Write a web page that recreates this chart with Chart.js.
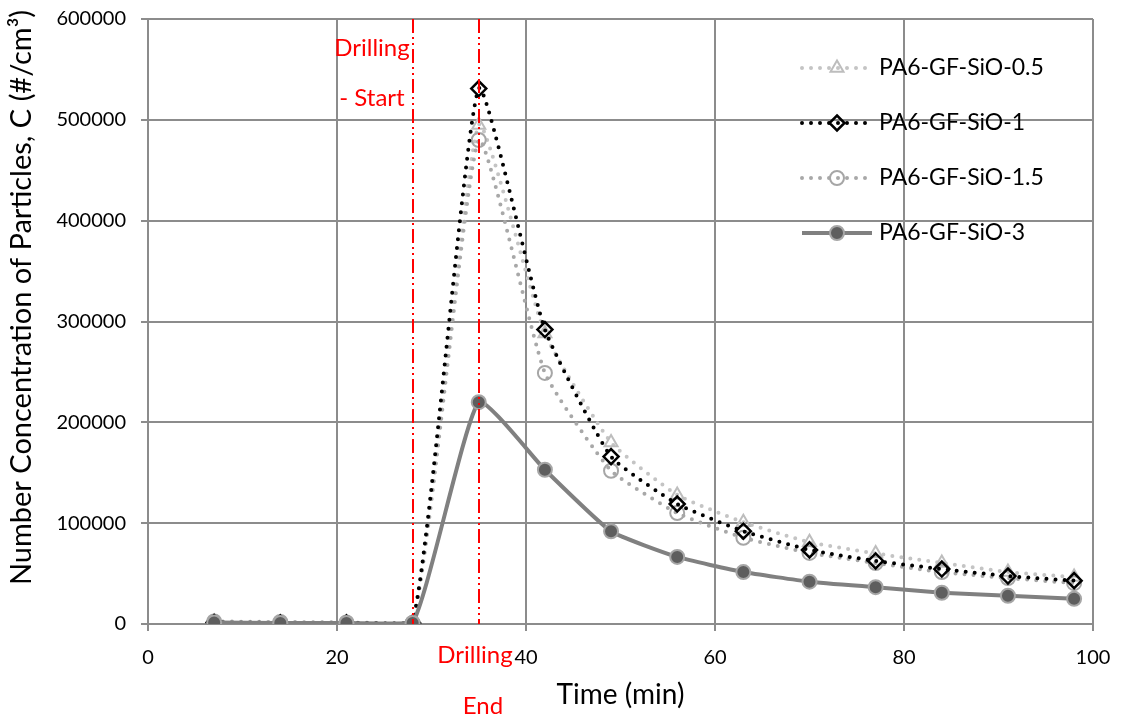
<!DOCTYPE html>
<html>
<head>
<meta charset="utf-8">
<script src="https://cdn.jsdelivr.net/npm/chart.js@4"></script>
<style>
  html, body { margin: 0; padding: 0; background: #fff; }
  canvas { display: block; }
</style>
</head>
<body>
<canvas id="chart" width="1126" height="719"></canvas>
<script>
// sampling times (min)
var times = [7, 14, 21, 28, 35, 42, 49, 56, 63, 70, 77, 84, 91, 98];

// number concentration of particles (#/cm3)
var sio05 = [2000, 1500, 1500, 1000, 495000, 288000, 180000, 128000, 101000, 81000, 70000, 60500, 51500, 46500];
var sio1  = [1500, 1000, 1000, 1000, 531000, 292000, 166000, 119000, 92000, 73500, 62500, 54500, 47500, 43000];
var sio15 = [2500, 2000, 1500, 1000, 480000, 249000, 152000, 110000, 85500, 70500, 60500, 51500, 45500, 40500];
var sio3  = [1500, 1000, 1000, 1000, 220000, 153000, 92000, 66500, 51500, 42000, 36500, 31000, 28000, 25000];

var seriesLabels = ['PA6-GF-SiO-0.5', 'PA6-GF-SiO-1', 'PA6-GF-SiO-1.5', 'PA6-GF-SiO-3'];
var yTitle = 'Number Concentration of Particles, C (#/cm\u00B3)';

// drilling window (min)
var drillStart = 28;
var drillEnd = 35;

var FONT = 'Lato, "Open Sans", sans-serif';

function toPoints(values) {
  return values.map(function(v, i) { return { x: times[i], y: v }; });
}

// small marker painter for the legend
function drawMarker(ctx, style, x, y, r) {
  ctx.beginPath();
  if (style === 'triangle') {
    for (var k = 0; k < 3; k++) {
      var a = k * 2 * Math.PI / 3;
      var px = x + Math.sin(a) * r, py = y - Math.cos(a) * r;
      if (k === 0) ctx.moveTo(px, py); else ctx.lineTo(px, py);
    }
    ctx.closePath();
  } else if (style === 'rectRot') {
    ctx.moveTo(x, y - r); ctx.lineTo(x + r, y); ctx.lineTo(x, y + r); ctx.lineTo(x - r, y);
    ctx.closePath();
  } else {
    ctx.arc(x, y, r, 0, Math.PI * 2);
  }
  ctx.fill();
  ctx.stroke();
}

var whiteBg = {
  id: 'whiteBg',
  beforeDraw: function(chart) {
    var ctx = chart.ctx;
    ctx.save();
    ctx.fillStyle = '#ffffff';
    ctx.fillRect(0, 0, chart.width, chart.height);
    ctx.restore();
  }
};

// y axis title, drawn by hand so it can sit a bit above centre like the original
var yTitlePlugin = {
  id: 'yTitlePlugin',
  afterDraw: function(chart) {
    var ctx = chart.ctx, area = chart.chartArea;
    ctx.save();
    ctx.translate(22, (area.top + area.bottom) / 2 - 24);
    ctx.rotate(-Math.PI / 2);
    ctx.fillStyle = '#000';
    ctx.font = '29px ' + FONT;
    ctx.textAlign = 'center';
    ctx.textBaseline = 'middle';
    ctx.fillText(yTitle, 0, 0);
    ctx.restore();
  }
};

// red dash-dot lines for start / end of drilling
var drillMarks = {
  id: 'drillMarks',
  afterDatasetsDraw: function(chart) {
    var ctx = chart.ctx, area = chart.chartArea, xs = chart.scales.x;
    var xa = Math.round(xs.getPixelForValue(drillStart));
    var xb = Math.round(xs.getPixelForValue(drillEnd));
    ctx.save();
    ctx.strokeStyle = '#ff0000';
    ctx.lineWidth = 2;
    ctx.setLineDash([14, 4, 2, 4, 2, 4]);
    [xa, xb].forEach(function(px) {
      ctx.beginPath();
      ctx.moveTo(px, area.top);
      ctx.lineTo(px, area.bottom);
      ctx.stroke();
    });
    ctx.setLineDash([]);
    ctx.fillStyle = '#ff0000';
    ctx.font = '24px ' + FONT;
    ctx.textAlign = 'center';
    ctx.textBaseline = 'middle';
    ctx.fillText('Drilling', xa - 41, area.top + 29);
    ctx.fillText('- Start', xa - 41, area.top + 79);
    ctx.fillText('Drilling', xb - 4, area.bottom + 31);
    ctx.fillText('End', xb + 4, area.bottom + 82);
    ctx.restore();
  }
};

// legend drawn inside the plot, top right
var insideLegend = {
  id: 'insideLegend',
  afterDraw: function(chart) {
    var ctx = chart.ctx, area = chart.chartArea;
    var x0 = area.right - 291, y0 = area.top + 49, gap = 55;
    ctx.save();
    chart.data.datasets.forEach(function(ds, i) {
      var y = y0 + i * gap;
      ctx.save();
      ctx.strokeStyle = ds.borderColor;
      ctx.lineWidth = ds.borderWidth;
      ctx.lineCap = ds.borderCapStyle || 'butt';
      ctx.setLineDash(ds.borderDash || []);
      ctx.beginPath();
      ctx.moveTo(x0, y);
      ctx.lineTo(x0 + 70, y);
      ctx.stroke();
      ctx.restore();
      ctx.save();
      ctx.strokeStyle = ds.pointBorderColor;
      ctx.fillStyle = ds.pointBackgroundColor;
      ctx.lineWidth = ds.pointBorderWidth;
      drawMarker(ctx, ds.pointStyle, x0 + 35, y, ds.pointRadius);
      ctx.restore();
      ctx.fillStyle = '#000';
      ctx.font = '23px ' + FONT;
      ctx.textAlign = 'left';
      ctx.textBaseline = 'middle';
      ctx.fillText(ds.label, x0 + 77, y);
    });
    ctx.restore();
  }
};

var dottedBase = { borderDash: [0, 9], borderCapStyle: 'round', borderWidth: 4, tension: 0.15, fill: false };

new Chart(document.getElementById('chart').getContext('2d'), {
  type: 'line',
  data: {
    datasets: [
      Object.assign({}, dottedBase, {
        label: seriesLabels[0], data: toPoints(sio05), order: 3,
        borderColor: '#c4c4c4', pointStyle: 'triangle', pointRadius: 7.5,
        pointBorderColor: '#bdbdbd', pointBackgroundColor: 'rgba(255,255,255,0)', pointBorderWidth: 2
      }),
      Object.assign({}, dottedBase, {
        label: seriesLabels[1], data: toPoints(sio1), order: 1,
        borderColor: '#000000', pointStyle: 'rectRot', pointRadius: 7.5,
        pointBorderColor: '#000000', pointBackgroundColor: 'rgba(255,255,255,0)', pointBorderWidth: 2.5
      }),
      Object.assign({}, dottedBase, {
        label: seriesLabels[2], data: toPoints(sio15), order: 2,
        borderColor: '#a8a8a8', pointStyle: 'circle', pointRadius: 7,
        pointBorderColor: '#a6a6a6', pointBackgroundColor: 'rgba(255,255,255,0)', pointBorderWidth: 2
      }),
      {
        label: seriesLabels[3], data: toPoints(sio3), order: 0,
        borderColor: '#808080', borderWidth: 4, tension: 0.15, fill: false,
        pointStyle: 'circle', pointRadius: 7,
        pointBorderColor: '#a6a6a6', pointBackgroundColor: '#5e5e5e', pointBorderWidth: 2
      }
    ]
  },
  options: {
    responsive: false,
    animation: false,
    layout: { padding: { top: 19, right: 33, left: 0, bottom: 0 } },
    plugins: {
      legend: { display: false },
      tooltip: { enabled: false }
    },
    scales: {
      x: {
        type: 'linear',
        min: 0,
        max: 100,
        afterFit: function(s) { s.height = 95; },
        ticks: { stepSize: 20, padding: 15, color: '#000', font: { family: FONT, size: 20 } },
        grid: { color: '#8c8c8c', lineWidth: 2, tickLength: 7 },
        border: { color: '#8c8c8c', width: 2 },
        title: { display: true, text: 'Time (min)', color: '#000', font: { family: FONT, size: 28 }, padding: { top: 0, bottom: 7 } }
      },
      y: {
        min: 0,
        max: 600000,
        afterFit: function(s) { s.width = 148; s.paddingTop = 0; s.paddingBottom = 0; },
        ticks: {
          stepSize: 100000, padding: 15, color: '#000', font: { family: FONT, size: 20 },
          callback: function(v) { return String(v); }
        },
        grid: { color: '#8c8c8c', lineWidth: 2, tickLength: 7 },
        border: { color: '#8c8c8c', width: 2 }
      }
    }
  },
  plugins: [whiteBg, drillMarks, insideLegend, yTitlePlugin]
});
</script>
</body>
</html>
